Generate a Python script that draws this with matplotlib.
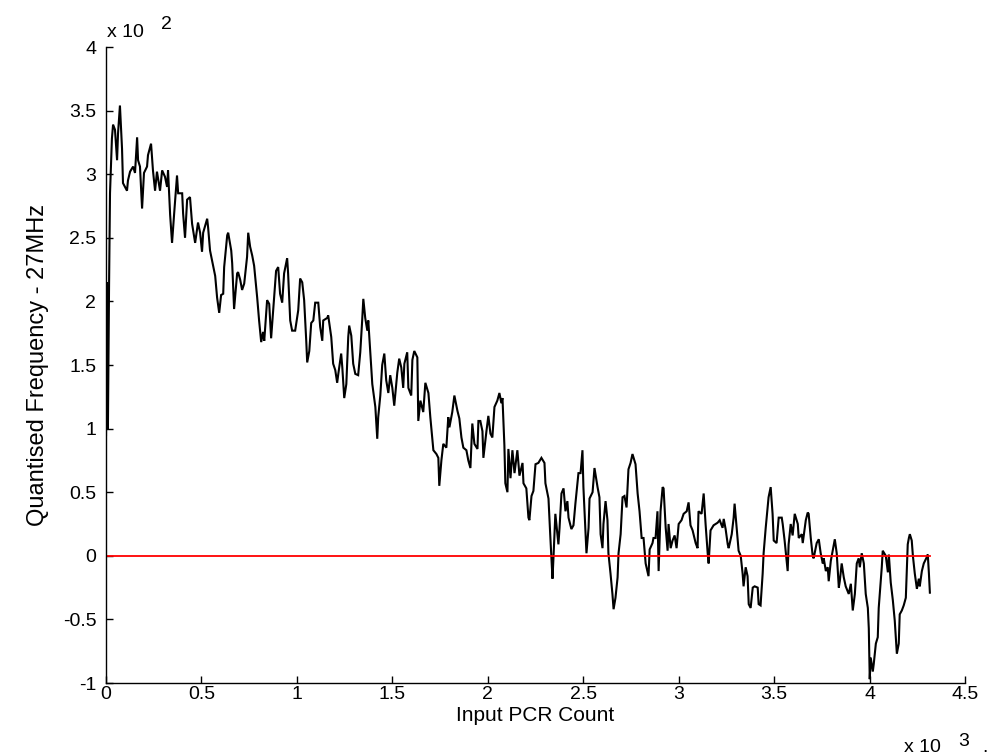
import matplotlib
matplotlib.use("Agg")
import matplotlib.pyplot as plt
import numpy as np

plt.rcParams['font.family'] = ['Liberation Sans', 'DejaVu Sans']

# Input PCR count (samples) and quantised frequency offset
pcr_count = [
    0, 5, 10, 16, 21, 31, 37, 47, 58, 63, 73, 84, 89, 110, 115, 126, 142, 152, 163, 168,
    178, 189, 199, 215, 220, 236, 246, 257, 267, 283, 294, 309, 320, 325, 336, 346, 357, 372, 378, 399,
    404, 414, 425, 440, 451, 467, 482, 493, 503, 509, 530, 535, 545, 556, 572, 582, 593, 603, 614, 619,
    635, 640, 656, 661, 671, 687, 692, 703, 713, 724, 739, 745, 755, 766, 776, 792, 802, 813, 823, 829,
    844, 855, 865, 876, 891, 902, 912, 923, 933, 949, 954, 965, 975, 991, 1007, 1017, 1028, 1038, 1049, 1054,
    1065, 1075, 1086, 1096, 1112, 1122, 1133, 1138, 1159, 1164, 1180, 1190, 1201, 1211, 1217, 1232, 1238, 1248, 1259, 1269,
    1274, 1285, 1295, 1306, 1321, 1332, 1342, 1348, 1358, 1369, 1374, 1384, 1395, 1411, 1421, 1426, 1437, 1447, 1458, 1468,
    1479, 1489, 1500, 1510, 1526, 1536, 1547, 1557, 1563, 1578, 1584, 1599, 1605, 1615, 1631, 1636, 1647, 1662, 1673, 1689,
    1699, 1704, 1715, 1731, 1741, 1746, 1757, 1767, 1783, 1793, 1799, 1814, 1825, 1841, 1851, 1862, 1872, 1888, 1898, 1909,
    1919, 1930, 1946, 1951, 1961, 1972, 1977, 1993, 2003, 2014, 2024, 2035, 2050, 2061, 2071, 2077, 2087, 2092, 2103, 2108,
    2119, 2129, 2140, 2155, 2166, 2182, 2187, 2202, 2213, 2218, 2229, 2239, 2250, 2265, 2281, 2297, 2302, 2318, 2328, 2339,
    2344, 2354, 2370, 2376, 2386, 2397, 2407, 2417, 2423, 2438, 2449, 2459, 2475, 2486, 2496, 2501, 2517, 2528, 2533, 2549,
    2559, 2575, 2585, 2591, 2601, 2606, 2617, 2627, 2632, 2643, 2653, 2659, 2669, 2680, 2685, 2696, 2706, 2716, 2727, 2737,
    2748, 2758, 2774, 2785, 2795, 2806, 2816, 2827, 2842, 2848, 2863, 2868, 2879, 2889, 2895, 2905, 2916, 2921, 2932, 2942,
    2947, 2958, 2968, 2979, 2989, 3000, 3015, 3026, 3042, 3052, 3062, 3073, 3089, 3099, 3104, 3120, 3131, 3141, 3152, 3157,
    3167, 3183, 3204, 3215, 3230, 3236, 3246, 3257, 3262, 3278, 3288, 3293, 3304, 3314, 3325, 3335, 3340, 3351, 3361, 3367,
    3377, 3388, 3398, 3414, 3419, 3429, 3440, 3445, 3456, 3466, 3471, 3482, 3492, 3498, 3513, 3524, 3540, 3545, 3555, 3571,
    3576, 3587, 3597, 3608, 3624, 3629, 3645, 3650, 3666, 3676, 3681, 3692, 3702, 3707, 3723, 3734, 3744, 3755, 3760, 3771,
    3781, 3786, 3797, 3807, 3818, 3828, 3839, 3844, 3854, 3865, 3875, 3891, 3902, 3912, 3923, 3933, 3943, 3949, 3959, 3970,
    3980, 3991, 3996, 4001, 4006, 4017, 4022, 4033, 4043, 4048, 4064, 4069, 4085, 4096, 4101, 4111, 4122, 4132, 4143, 4153,
    4158, 4169, 4179, 4190, 4200, 4206, 4211, 4221, 4227, 4237, 4248, 4258, 4263, 4274, 4284, 4300, 4305, 4311, 4316,
]

quant_freq = [
    95, 215, 100, 212, 285, 328, 339, 335, 311, 332, 354, 320, 293, 287, 295, 302, 306, 301, 329, 311,
    306, 273, 301, 306, 315, 324, 303, 287, 302, 287, 303, 298, 290, 303, 268, 246, 269, 299, 285, 285,
    269, 250, 280, 282, 261, 246, 262, 254, 239, 254, 265, 258, 240, 232, 220, 203, 191, 205, 206, 227,
    252, 254, 240, 230, 194, 222, 223, 217, 209, 214, 235, 254, 243, 236, 228, 203, 185, 168, 176, 169,
    201, 198, 171, 193, 224, 227, 206, 199, 222, 234, 222, 185, 177, 177, 193, 218, 215, 201, 169, 152,
    161, 183, 185, 199, 199, 180, 169, 185, 187, 189, 172, 151, 146, 136, 143, 159, 148, 124, 135, 172,
    181, 173, 151, 143, 142, 160, 185, 202, 187, 177, 185, 161, 135, 117, 92, 109, 126, 150, 159, 138,
    128, 142, 132, 118, 144, 155, 148, 132, 151, 160, 132, 126, 154, 161, 156, 106, 122, 113, 136, 128,
    109, 101, 83, 80, 77, 55, 75, 88, 85, 109, 101, 113, 126, 114, 108, 93, 85, 83, 75, 69,
    104, 88, 84, 106, 106, 98, 77, 98, 110, 96, 93, 117, 122, 128, 120, 124, 87, 57, 50, 84,
    61, 83, 65, 83, 63, 73, 57, 53, 30, 28, 47, 51, 72, 73, 77, 73, 57, 45, 14, -18,
    -2, 33, 9, 22, 49, 53, 35, 43, 30, 21, 24, 41, 65, 65, 83, 54, 2, 22, 45, 50,
    69, 54, 46, 17, 6, 25, 43, 28, 2, -14, -30, -42, -33, -17, 2, 17, 46, 47, 38, 68,
    73, 80, 72, 49, 35, 14, 14, -6, -16, 5, 10, 14, 14, 35, -12, 35, 54, 53, 22, 4,
    25, 6, 12, 16, 6, 25, 28, 33, 35, 42, 24, 20, 10, 6, 35, 33, 49, 25, 2, -6,
    20, 24, 26, 28, 22, 29, 21, 9, 6, 17, 30, 41, 22, 4, 0, -14, -24, -9, -16, -38,
    -41, -25, -24, -25, -38, -39, -14, 2, 22, 38, 46, 54, 33, 12, 10, 30, 30, 25, 12, -12,
    9, 25, 16, 33, 25, 14, 17, 10, 28, 34, 33, 14, 0, -2, 10, 13, 2, -6, -2, -12,
    -9, -20, -4, 4, 13, 2, -25, -20, -6, -17, -24, -30, -22, -43, -30, -6, -2, -9, 2, -6,
    -30, -41, -57, -97, -80, -91, -85, -69, -64, -41, -9, 4, 0, -13, 1, -21, -35, -51, -77, -69,
    -46, -43, -39, -33, 9, 14, 17, 12, 0, -14, -26, -18, -24, -12, -6, -1, 1, -14, -29,
]

x_ticks = [0, 0.5, 1, 1.5, 2, 2.5, 3, 3.5, 4, 4.5]
y_ticks = [-1, -0.5, 0, 0.5, 1, 1.5, 2, 2.5, 3, 3.5, 4]
x_scale = 1e3
y_scale = 1e2

FS_TICK = 14
FS_XLABEL = 15
FS_YLABEL = 17

W, H = 996, 756
fig = plt.figure(figsize=(W / 100, H / 100), dpi=100)
ax = fig.add_axes([106 / W, 1 - 683 / H, (965 - 106) / W, (683 - 47) / H])

x = np.asarray(pcr_count) / x_scale
y = np.asarray(quant_freq) / y_scale
ax.plot(x, y, color='black', lw=1.5, solid_joinstyle='miter')
ax.plot([x[0], x[-1]], [0, 0], color='#ff0000', lw=1.3)

ax.set_xlim(0, 4.5)
ax.set_ylim(-1, 4)
ax.set_xticks(x_ticks)
ax.set_yticks(y_ticks)
ax.set_xticklabels([f"{t:g}" for t in x_ticks])
ax.set_yticklabels([f"{t:g}" for t in y_ticks])

for s in ('top', 'right'):
    ax.spines[s].set_visible(False)
for s in ('left', 'bottom'):
    ax.spines[s].set_linewidth(1.0)
ax.tick_params(direction='in', length=5, width=1.0, labelsize=FS_TICK,
               top=False, right=False)
ax.tick_params(axis='x', pad=2)
ax.tick_params(axis='y', pad=7)

ax.set_xlabel('Input PCR Count', fontsize=FS_XLABEL, labelpad=2)
ax.set_ylabel('Quantised Frequency - 27MHz', fontsize=FS_YLABEL, labelpad=10)

# exponent annotations for each axis
fig.text(107 / W, 1 - 37 / H, 'x 10', fontsize=FS_TICK, va='baseline', ha='left')
fig.text(161 / W, 1 - 29 / H, '2', fontsize=FS_TICK, va='baseline', ha='left')
fig.text(904 / W, 1 - 752 / H, 'x 10', fontsize=FS_TICK, va='baseline', ha='left')
fig.text(958 / W, 1 - 746 / H, '3', fontsize=FS_TICK, va='baseline', ha='left')
fig.text(982 / W, 1 - 752 / H, '.', fontsize=FS_TICK, va='baseline', ha='left')

fig.savefig('out.png', dpi=100)
